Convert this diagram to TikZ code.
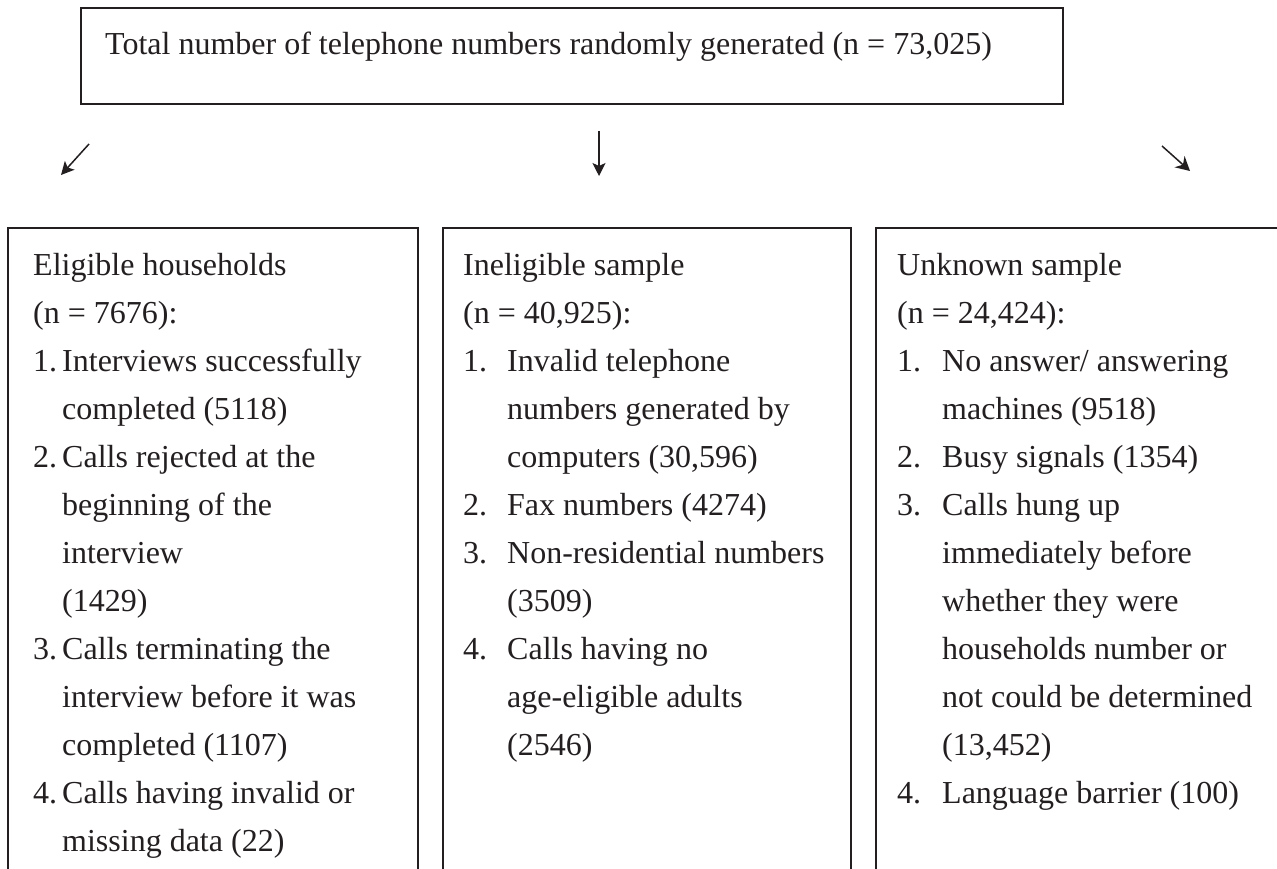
\documentclass[tikz,border=0pt]{standalone}
\usepackage{fontspec}
\setmainfont{Liberation Serif}
\usetikzlibrary{arrows.meta}
\definecolor{ink}{HTML}{231F20}
\tikzset{
  box/.style={draw=ink, line width=1.3pt},
  txt/.style={anchor=base west, inner sep=0pt, font=\fontsize{32}{48}\selectfont, text=ink},
  arr/.style={draw=ink, line width=1.5pt, -{Stealth[length=13pt,width=13pt,inset=3pt]}}
}
\newcommand{\rowline}[4]{\node[txt] (#1) at (#2,{275+48*#3}) {#4};}
\begin{document}
\begin{tikzpicture}[x=1pt,y=-1pt]
\useasboundingbox (0,0) rectangle (1277,869);
% top box
\draw[box] (81,8) rectangle (1063,104);
\node[txt] (top) at (105,55) {Total number of telephone numbers randomly generated (n = 73,025)};
% arrows
\coordinate (la0) at (89,144); \coordinate (la1) at (61,175);
\coordinate (ma0) at (599,131); \coordinate (ma1) at (599,176);
\coordinate (ra0) at (1162,146); \coordinate (ra1) at (1190,171);
\draw[arr] (la0) -- (la1);
\draw[arr, line width=1.2pt] (ma0) -- (ma1);
\draw[arr, -{Stealth[length=14pt,width=15pt]}] (ra0) -- (ra1);
% lower boxes
\draw[box] (1290,228) -- (876,228) -- (876,880);
\draw[box] (443,880) -- (443,228) -- (851,228) -- (851,880);
\draw[box] (8,880) -- (8,228) -- (418,228) -- (418,880);
% left box
\rowline{l0}{33}{0}{Eligible households}
\rowline{l1}{33}{1}{(n = 7676):}
\rowline{l2n}{33}{2}{1.}
\rowline{l2}{62}{2}{Interviews successfully}
\rowline{l3}{62}{3}{completed (5118)}
\rowline{l4n}{33}{4}{2.}
\rowline{l4}{62}{4}{Calls rejected at the}
\rowline{l5}{62}{5}{beginning of the}
\rowline{l6}{62}{6}{interview}
\rowline{l7}{62}{7}{(1429)}
\rowline{l8n}{33}{8}{3.}
\rowline{l8}{62}{8}{Calls terminating the}
\rowline{l9}{62}{9}{interview before it was}
\rowline{l10}{62}{10}{completed (1107)}
\rowline{l11n}{33}{11}{4.}
\rowline{l11}{62}{11}{Calls having invalid or}
\rowline{l12}{62}{12}{missing data (22)}
% middle box
\rowline{m0}{463}{0}{Ineligible sample}
\rowline{m1}{463}{1}{(n = 40,925):}
\rowline{m2n}{463}{2}{1.}
\rowline{m2}{507}{2}{Invalid telephone}
\rowline{m3}{507}{3}{numbers generated by}
\rowline{m4}{507}{4}{computers (30,596)}
\rowline{m5n}{463}{5}{2.}
\rowline{m5}{507}{5}{Fax numbers (4274)}
\rowline{m6n}{463}{6}{3.}
\rowline{m6}{507}{6}{Non-residential numbers}
\rowline{m7}{507}{7}{(3509)}
\rowline{m8n}{463}{8}{4.}
\rowline{m8}{507}{8}{Calls having no}
\rowline{m9}{507}{9}{age-eligible adults}
\rowline{m10}{507}{10}{(2546)}
% right box
\rowline{r0}{897}{0}{Unknown sample}
\rowline{r1}{897}{1}{(n = 24,424):}
\rowline{r2n}{897}{2}{1.}
\rowline{r2}{942}{2}{No answer/ answering}
\rowline{r3}{942}{3}{machines (9518)}
\rowline{r4n}{897}{4}{2.}
\rowline{r4}{942}{4}{Busy signals (1354)}
\rowline{r5n}{897}{5}{3.}
\rowline{r5}{942}{5}{Calls hung up}
\rowline{r6}{942}{6}{immediately before}
\rowline{r7}{942}{7}{whether they were}
\rowline{r8}{942}{8}{households number or}
\rowline{r9}{942}{9}{not could be determined}
\rowline{r10}{942}{10}{(13,452)}
\rowline{r11n}{897}{11}{4.}
\rowline{r11}{942}{11}{Language barrier (100)}
\end{tikzpicture}
\end{document}
